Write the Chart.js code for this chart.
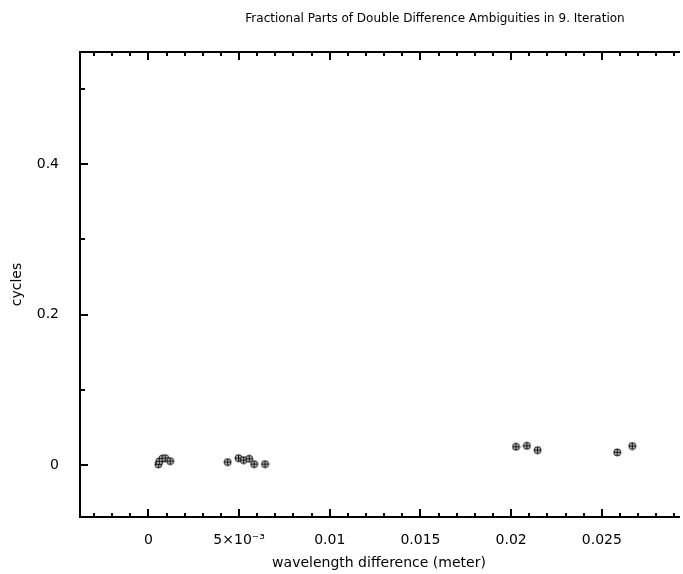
<!DOCTYPE html>
<html>
<head>
<meta charset="utf-8">
<script src="https://cdn.jsdelivr.net/npm/chart.js@4"></script>
<style>
  html, body { margin: 0; padding: 0; background: #fff; overflow: hidden; }
  #wrap { width: 683px; height: 574px; }
</style>
</head>
<body>
<div id="wrap"><canvas id="chartCanvas" width="683" height="574"></canvas></div>
<script>
// data
const wavelengthDiff = [
    0.00055, 0.0006, 0.00077, 0.00093, 0.0012,
    0.00437, 0.00497, 0.00525, 0.00556, 0.00583, 0.00643,
    0.02027, 0.02087, 0.02146, 0.02585, 0.02668
];
const fracCycles = [
    0.001, 0.005, 0.0086, 0.0093, 0.0053,
    0.004, 0.0093, 0.0066, 0.0084, 0.0013, 0.0013,
    0.0243, 0.0256, 0.0199, 0.0169, 0.0253
];
const xTicks = [0, 0.005, 0.01, 0.015, 0.02, 0.025];
const xTickLabels = ["0", "5×10⁻³", "0.01", "0.015", "0.02", "0.025"];
const yTicks = [0, 0.2, 0.4];
const yTickLabels = ["0", "0.2", "0.4"];

const titleText = "Fractional Parts of Double Difference Ambiguities in 9. Iteration";
const FONT = "'DejaVu Sans', Verdana, sans-serif";

// circle with a cross, like the original plot symbol
function makeSymbol() {
    const c = document.createElement("canvas");
    c.width = 9;
    c.height = 9;
    const g = c.getContext("2d");
    g.fillStyle = "#bbb";
    g.strokeStyle = "#111";
    g.lineWidth = 1;
    g.beginPath();
    g.arc(4.5, 4.5, 3.5, 0, Math.PI * 2);
    g.fill();
    g.stroke();
    g.beginPath();
    g.moveTo(1, 4.5); g.lineTo(8, 4.5);
    g.moveTo(4.5, 1); g.lineTo(4.5, 8);
    g.stroke();
    return c;
}

// frame, inward ticks and the title
const framePlugin = {
    id: "frame",
    afterDraw(chart) {
        const ctx = chart.ctx;
        const a = chart.chartArea;
        const xs = chart.scales.x;
        const ys = chart.scales.y;
        ctx.save();
        ctx.strokeStyle = "#000";
        ctx.lineWidth = 2;
        ctx.beginPath();
        ctx.moveTo(a.right + 2, a.top);
        ctx.lineTo(a.left, a.top);
        ctx.lineTo(a.left, a.bottom);
        ctx.lineTo(a.right + 2, a.bottom);
        ctx.stroke();

        ctx.beginPath();
        for (let i = -3; i <= 29; i++) {
            const px = Math.round(xs.getPixelForValue(i / 1000));
            if (px <= a.left + 2 || px > a.right) continue;
            const len = i % 5 === 0 ? 8 : 4;
            ctx.moveTo(px, a.bottom);
            ctx.lineTo(px, a.bottom - len);
            ctx.moveTo(px, a.top);
            ctx.lineTo(px, a.top + len);
        }
        for (let i = 0; i <= 5; i++) {
            const py = Math.round(ys.getPixelForValue(i / 10));
            const len = i % 2 === 0 ? 8 : 5;
            ctx.moveTo(a.left, py);
            ctx.lineTo(a.left + len, py);
        }
        ctx.stroke();

        ctx.fillStyle = "#000";
        ctx.font = "12px " + FONT;
        ctx.textAlign = "center";
        ctx.textBaseline = "middle";
        ctx.fillText(titleText, 435, 19);
        ctx.restore();
    }
};

const ctx = document.getElementById("chartCanvas").getContext("2d");
const chart = new Chart(ctx, {
    type: "scatter",
    data: {
        datasets: [{
            label: "fractional parts",
            data: wavelengthDiff.map((x, i) => ({ x, y: fracCycles[i] })),
            pointStyle: makeSymbol(),
            pointRadius: 4,
        }],
    },
    options: {
        responsive: false,
        animation: false,
        layout: { padding: { top: 52, left: 0, right: 0, bottom: 0 } },
        plugins: {
            legend: { display: false },
            tooltip: { enabled: false },
            title: { display: false },
        },
        scales: {
            x: {
                type: "linear",
                min: -0.00377,
                max: 0.0292,
                grid: { display: false },
                border: { display: false },
                afterBuildTicks: s => { s.ticks = xTicks.map(v => ({ value: v })); },
                afterFit: s => { s.height = 57; },
                ticks: {
                    color: "#000",
                    padding: 7,
                    maxRotation: 0,
                    autoSkip: false,
                    font: { family: FONT, size: 14 },
                    callback: (v, i) => xTickLabels[i],
                },
                title: {
                    display: true,
                    text: "wavelength difference (meter)",
                    color: "#000",
                    font: { family: FONT, size: 14 },
                    padding: { top: 0, bottom: 2 },
                },
            },
            y: {
                type: "linear",
                min: -0.069,
                max: 0.549,
                grid: { display: false },
                border: { display: false },
                afterBuildTicks: s => { s.ticks = yTicks.map(v => ({ value: v })); },
                afterFit: s => { s.width = 80; },
                ticks: {
                    color: "#000",
                    padding: 13,
                    autoSkip: false,
                    font: { family: FONT, size: 14 },
                    callback: (v, i) => yTickLabels[i],
                },
                title: {
                    display: true,
                    text: "cycles",
                    color: "#000",
                    font: { family: FONT, size: 14 },
                    padding: { top: 9, bottom: 0 },
                },
            },
        },
    },
    plugins: [framePlugin],
});
</script>
</body>
</html>
